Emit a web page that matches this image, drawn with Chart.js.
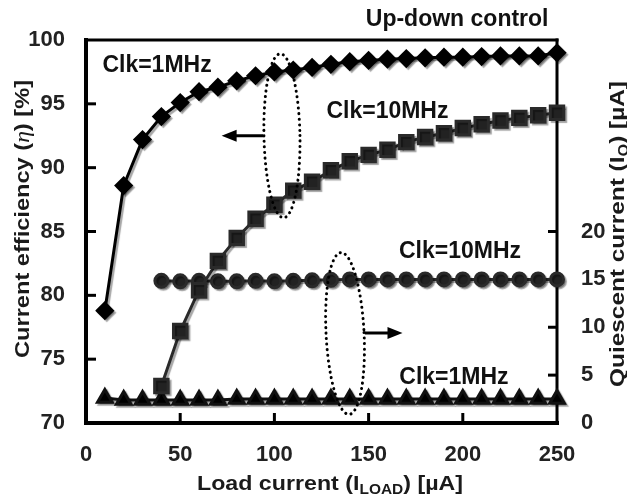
<!DOCTYPE html>
<html>
<head>
<meta charset="utf-8">
<script src="https://cdn.jsdelivr.net/npm/chart.js@4.4.1/dist/chart.umd.min.js"></script>
<style>
  html, body { margin: 0; padding: 0; background: #fff; }
  canvas { display: block; }
</style>
</head>
<body>
<canvas id="effChart" width="627" height="501"></canvas>
<script>
// load current [uA]
const loadAll = [10, 20, 30, 40, 50, 60, 70, 80, 90, 100, 110, 120, 130, 140, 150, 160, 170, 180, 190, 200, 210, 220, 230, 240, 250];
const loadFrom40 = [40, 50, 60, 70, 80, 90, 100, 110, 120, 130, 140, 150, 160, 170, 180, 190, 200, 210, 220, 230, 240, 250];

// current efficiency [%] (left axis)
const eff1MHz = [78.8, 88.6, 92.2, 94.0, 95.1, 95.95, 96.3, 96.8, 97.2, 97.5, 97.65, 97.85, 98.1, 98.3, 98.4, 98.5, 98.55, 98.6, 98.65, 98.65, 98.7, 98.75, 98.75, 98.75, 99.0];
const eff10MHz = [72.9, 77.2, 80.4, 82.7, 84.5, 86.0, 87.1, 88.2, 88.9, 89.8, 90.5, 91.0, 91.4, 92.0, 92.4, 92.7, 93.1, 93.4, 93.7, 93.9, 94.1, 94.3];

// quiescent current [uA] (right axis)
const iq10MHz = [14.85, 14.8, 14.85, 14.8, 14.8, 14.85, 14.8, 14.85, 14.9, 14.95, 15.0, 15.0, 15.0, 15.0, 15.0, 15.0, 15.0, 15.0, 15.0, 15.0, 15.0, 15.0];
const iq1MHz = [2.6, 2.4, 2.4, 2.4, 2.4, 2.4, 2.4, 2.5, 2.5, 2.5, 2.5, 2.5, 2.5, 2.5, 2.5, 2.5, 2.5, 2.5, 2.5, 2.5, 2.5, 2.5, 2.5, 2.5, 2.5];

// axis ticks
const xTicks = [0, 50, 100, 150, 200, 250];
const effTicks = [70, 75, 80, 85, 90, 95, 100];
const iqTicks = [0, 5, 10, 15, 20];

const FONT = '"Liberation Sans", Arial, sans-serif';
Chart.defaults.font.family = FONT;

const pairs = (xs, ys) => xs.map((x, i) => ({ x: x, y: ys[i] }));

function tickList(list) {
  return function (scale) { scale.ticks = list.map(v => ({ value: v })); };
}

// text with subscripts / italic pieces, squeezed or stretched to a given length
function drawRich(ctx, parts, x, y, size, rot, len) {
  ctx.save();
  ctx.translate(x, y);
  ctx.rotate(rot || 0);
  const fontOf = p => p.italic ? 'italic ' + size + 'px "Liberation Serif", serif'
    : 'bold ' + Math.round(p.sub ? size * 0.68 : size) + 'px ' + FONT;
  let w = 0;
  parts.forEach(p => { ctx.font = fontOf(p); w += ctx.measureText(p.t).width; });
  if (len) ctx.scale(len / w, 1);
  let cx = -w / 2;
  ctx.textBaseline = 'middle';
  ctx.textAlign = 'left';
  ctx.fillStyle = '#1a1a1a';
  parts.forEach(p => {
    ctx.font = fontOf(p);
    ctx.fillText(p.t, cx, p.sub ? size * 0.3 : 0);
    cx += ctx.measureText(p.t).width;
  });
  ctx.restore();
}

// soft grey drop shadow behind the series, like the original figure
const shadowPlugin = {
  id: 'shadow',
  beforeDatasetDraw(chart) {
    const c = chart.ctx;
    c.save();
    c.shadowColor = 'rgba(0,0,0,0.35)';
    c.shadowOffsetX = 2;
    c.shadowOffsetY = 2;
    c.shadowBlur = 1;
  },
  afterDatasetDraw(chart) {
    chart.ctx.restore();
  }
};

const framePlugin = {
  id: 'frame',
  beforeDatasetsDraw(chart) {
    const { ctx, chartArea: a, scales } = chart;
    ctx.save();
    ctx.strokeStyle = '#000';
    ctx.lineCap = 'square';
    const seg = (x1, y1, x2, y2, w) => {
      ctx.lineWidth = w; ctx.beginPath(); ctx.moveTo(x1, y1); ctx.lineTo(x2, y2); ctx.stroke();
    };
    seg(a.left, a.top, a.right, a.top, 3);
    seg(a.right, a.top, a.right, a.bottom, 3);
    seg(a.left, a.bottom, a.right, a.bottom, 4);
    seg(a.left, a.top, a.left, a.bottom, 4);
    ctx.lineCap = 'butt';
    xTicks.slice(1, -1).forEach(v => {
      const px = scales.x.getPixelForValue(v);
      seg(px, a.bottom, px, a.bottom - 10, 3);
    });
    effTicks.slice(1, -1).forEach(v => {
      const py = scales.y.getPixelForValue(v);
      seg(a.left, py, a.left + 10, py, 3);
    });
    iqTicks.slice(1).forEach(v => {
      const py = scales.y1.getPixelForValue(v);
      seg(a.right, py, a.right - 9, py, 3);
    });
    ctx.restore();
  },
  afterDatasetsDraw(chart) {
    const { ctx, chartArea: a, scales } = chart;
    const X = v => scales.x.getPixelForValue(v);
    const YL = v => scales.y.getPixelForValue(v);
    const YR = v => scales.y1.getPixelForValue(v);
    ctx.save();
    // dotted ellipses
    ctx.strokeStyle = '#000';
    ctx.lineWidth = 3;
    ctx.lineCap = 'round';
    ctx.setLineDash([0.1, 5.5]);
    ctx.beginPath();
    ctx.ellipse(X(104), YL(92.5), 18, 82, -0.02, 0, Math.PI * 2);
    ctx.stroke();
    ctx.beginPath();
    ctx.ellipse(X(137.5), YR(9.35), 19, 81, -0.05, 0, Math.PI * 2);
    ctx.stroke();
    ctx.setLineDash([]);
    // arrows
    const arrow = (x1, x2, y) => {
      const dir = Math.sign(x2 - x1);
      ctx.lineWidth = 3;
      ctx.lineCap = 'butt';
      ctx.beginPath(); ctx.moveTo(x1, y); ctx.lineTo(x2 - dir * 12, y); ctx.stroke();
      ctx.beginPath();
      ctx.moveTo(x2, y);
      ctx.lineTo(x2 - dir * 15, y - 6);
      ctx.lineTo(x2 - dir * 15, y + 6);
      ctx.closePath();
      ctx.fill();
    };
    ctx.fillStyle = '#000';
    arrow(X(94), X(72), YL(92.5));
    arrow(X(148), X(168), YR(9.4));
    // labels
    ctx.font = 'bold 23px ' + FONT;
    ctx.fillStyle = '#111';
    ctx.textAlign = 'center';
    ctx.textBaseline = 'middle';
    ctx.fillText('Clk=1MHz', X(37.7), YL(98.0));
    ctx.fillText('Clk=10MHz', X(160), YL(94.4));
    ctx.fillText('Clk=10MHz', X(198.5), YR(17.9));
    ctx.fillText('Clk=1MHz', X(195.3), YR(4.7));
    ctx.fillText('Up-down control', X(197), a.top - 20);
    ctx.restore();
  },
  afterDraw(chart) {
    const { ctx } = chart;
    drawRich(ctx, [{ t: 'Load current (I' }, { t: 'LOAD', sub: true }, { t: ') [\u00b5A]' }],
      330, 484, 21, 0, 266);
    drawRich(ctx, [{ t: 'Current efficiency (' }, { t: '\u03b7', italic: true }, { t: ') [%]' }],
      23, 219, 21, -Math.PI / 2, 278);
    drawRich(ctx, [{ t: 'Quiescent current (I' }, { t: 'Q', sub: true }, { t: ') [\u00b5A]' }],
      618, 234, 21, -Math.PI / 2, 306);
  }
};

const ctx = document.getElementById('effChart').getContext('2d');

const effChart = new Chart(ctx, {
  type: 'line',
  data: {
    datasets: [
      {
        label: 'Efficiency Clk=1MHz',
        data: pairs(loadAll, eff1MHz),
        yAxisID: 'y',
        borderColor: '#000',
        backgroundColor: '#000',
        borderWidth: 3,
        pointStyle: 'rectRot',
        pointRadius: 7.5,
        pointHoverRadius: 7.5
      },
      {
        label: 'Efficiency Clk=10MHz',
        data: pairs(loadFrom40, eff10MHz),
        yAxisID: 'y',
        borderColor: '#2a2a2a',
        backgroundColor: '#222',
        borderWidth: 3,
        pointStyle: 'rect',
        pointRadius: 9.5,
        pointHoverRadius: 9.5
      },
      {
        label: 'IQ Clk=10MHz',
        data: pairs(loadFrom40, iq10MHz),
        yAxisID: 'y1',
        borderColor: '#2a2a2a',
        backgroundColor: '#222',
        borderWidth: 3,
        pointStyle: 'circle',
        pointRadius: 6.5,
        pointHoverRadius: 6.5
      },
      {
        label: 'IQ Clk=1MHz',
        data: pairs(loadAll, iq1MHz),
        yAxisID: 'y1',
        borderColor: '#111',
        backgroundColor: '#000',
        borderWidth: 3,
        pointStyle: 'triangle',
        pointRadius: 8.5,
        pointHoverRadius: 8.5
      }
    ]
  },
  options: {
    responsive: false,
    devicePixelRatio: 1,
    animation: false,
    clip: false,
    layout: { padding: { top: 40, left: 0, right: 0, bottom: 0 } },
    elements: { line: { tension: 0 }, point: { borderWidth: 0 } },
    plugins: { legend: { display: false }, tooltip: { enabled: false } },
    scales: {
      x: {
        type: 'linear',
        min: 0,
        max: 250,
        afterBuildTicks: tickList(xTicks),
        afterFit: s => { s.height = 78; },
        grid: { display: false },
        border: { display: false },
        ticks: { padding: 11, color: '#222', font: { size: 22, weight: 'bold' } }
      },
      y: {
        position: 'left',
        min: 70,
        max: 100,
        afterBuildTicks: tickList(effTicks),
        afterFit: s => { s.width = 86; },
        grid: { display: false },
        border: { display: false },
        ticks: { padding: 13, color: '#222', font: { size: 22, weight: 'bold' } }
      },
      y1: {
        position: 'right',
        min: 0,
        max: 40,
        afterBuildTicks: tickList(iqTicks),
        afterFit: s => { s.width = 70; },
        grid: { display: false },
        border: { display: false },
        ticks: { padding: 16, color: '#222', font: { size: 22, weight: 'bold' } }
      }
    }
  },
  plugins: [framePlugin, shadowPlugin]
});
</script>
</body>
</html>
